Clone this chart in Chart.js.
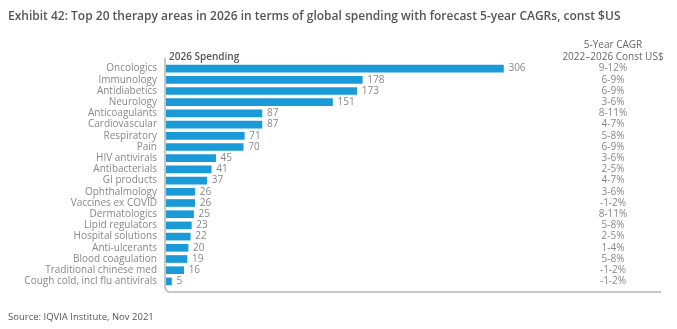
<!DOCTYPE html>
<html>
<head>
<meta charset="utf-8">
<script src="https://cdn.jsdelivr.net/npm/chart.js@4.4.1/dist/chart.umd.min.js"></script>
<style>
  html, body { margin: 0; padding: 0; background: #fff; }
  #wrap { width: 677px; height: 329px; position: relative; }
</style>
</head>
<body>
<div id="wrap"><canvas id="spendChart" width="677" height="329"></canvas></div>
<script>
// Therapy areas, 2026 spending (US$ bn) and 5-year CAGR ranges
const areas = ['Oncologics', 'Immunology', 'Antidiabetics', 'Neurology', 'Anticoagulants',
    'Cardiovascular', 'Respiratory', 'Pain', 'HIV antivirals', 'Antibacterials', 'GI products',
    'Ophthalmology', 'Vaccines ex COVID', 'Dermatologics', 'Lipid regulators', 'Hospital solutions',
    'Anti-ulcerants', 'Blood coagulation', 'Traditional chinese med', 'Cough cold, incl flu antivirals'];
const spending = [306, 178, 173, 151, 87, 87, 71, 70, 45, 41, 37, 26, 26, 25, 23, 22, 20, 19, 16, 5];
const cagr = ['9-12%', '6-9%', '6-9%', '3-6%', '8-11%', '4-7%', '5-8%', '6-9%', '3-6%', '2-5%',
    '4-7%', '3-6%', '-1-2%', '8-11%', '5-8%', '2-5%', '1-4%', '5-8%', '-1-2%', '-1-2%'];

const FONT = "'Open Sans', 'DejaVu Sans', sans-serif";

// Title, panel frame, value labels and the CAGR column
const annotate = {
    id: 'annotate',
    beforeDatasetsDraw(chart) {
        const ctx = chart.ctx;
        ctx.save();
        // panel frame: left and bottom edges with a rounded corner
        ctx.strokeStyle = '#b5b5b5';
        ctx.lineWidth = 1.5;
        ctx.beginPath();
        ctx.moveTo(165, 58);
        ctx.lineTo(165, 287);
        ctx.arcTo(165, 292, 170, 292, 5);
        ctx.lineTo(661, 292);
        ctx.stroke();
        ctx.restore();
    },
    afterDatasetsDraw(chart) {
        const ctx = chart.ctx;
        const x = chart.scales.x;
        const y = chart.scales.y;
        ctx.save();
        ctx.textBaseline = 'middle';

        ctx.fillStyle = '#555';
        ctx.font = '600 12px ' + FONT;
        ctx.textAlign = 'left';
        ctx.fillText('Exhibit 42: Top 20 therapy areas in 2026 in terms of global spending with forecast 5-year CAGRs, const $US', 8, 17);

        ctx.font = '600 10px ' + FONT;
        ctx.fillText('2026 Spending', 169, 57);

        ctx.font = '9.5px ' + FONT;
        ctx.fillStyle = '#555';
        ctx.fillText('Source: IQVIA Institute, Nov 2021', 8, 317);

        ctx.fillStyle = '#666';
        ctx.font = '10px ' + FONT;
        ctx.textAlign = 'center';
        ctx.fillText('5-Year CAGR', 613, 45);
        ctx.fillText('2022\u20132026 Const US$', 613, 57);

        ctx.fillStyle = '#888';
        spending.forEach((v, i) => {
            const py = y.getPixelForValue(i);
            ctx.textAlign = 'left';
            ctx.fillText(String(v), x.getPixelForValue(v) + 5, py);
            ctx.textAlign = 'center';
            ctx.fillText(cagr[i], 613, py);
        });
        ctx.restore();
    }
};

new Chart(document.getElementById('spendChart'), {
    type: 'bar',
    data: {
        labels: areas,
        datasets: [{
            data: spending,
            backgroundColor: '#1b9ad8',
            barThickness: 7
        }]
    },
    options: {
        indexAxis: 'y',
        responsive: false,
        animation: false,
        layout: { padding: { top: 63, bottom: 42, right: 17, left: 0 } },
        plugins: { legend: { display: false }, tooltip: { enabled: false } },
        scales: {
            x: { display: false, min: 0, max: 448 },
            y: {
                grid: { display: false, drawTicks: false },
                border: { display: false },
                ticks: { color: '#888', padding: 9, autoSkip: false, font: { family: FONT, size: 10 } },
                afterFit(scale) { scale.width = 166; }
            }
        }
    },
    plugins: [annotate]
});
</script>
</body>
</html>
